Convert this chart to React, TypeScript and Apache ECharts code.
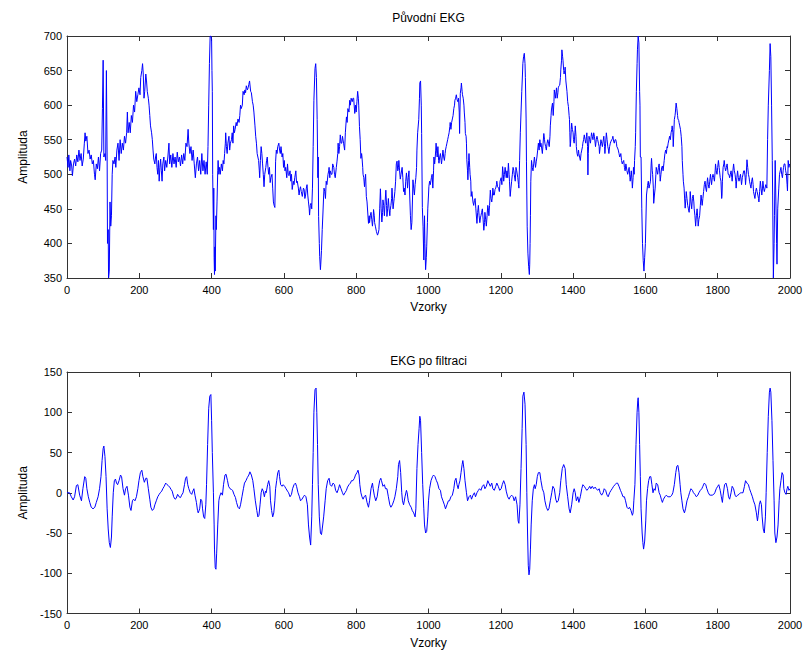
import React, { useEffect, useRef } from "react";
import * as echarts from "echarts";

// Raw ECG samples [sample index, amplitude]
const rawEkg: number[][] = [
[0,525],[3,510],[5,528],[8,505],[10,520],[13,512],[15,498],[18,515],[21,522],[24,512],[27,528],[30,518],[33,535],[36,520],[39,530],[42,512],[45,522],[48,545],[50,560],[52,548],[55,555],[58,530],[61,535],[64,522],[67,528],[70,515],[73,520],[76,500],[78,492],[81,515],[84,508],[87,525],[90,505],[93,530],[96,535],[98,595],[100,665],[102,525],[105,530],[107,520],[109,650],[111,525],[112,400],[114,420],[115,350],[117,360],[119,460],[121,425],[123,440],[125,500],[127,520],[130,515],[133,525],[135,510],[138,535],[141,545],[144,520],[147,550],[150,530],[153,545],[156,535],[159,555],[162,545],[165,560],[167,590],[169,560],[172,575],[175,560],[178,585],[181,575],[184,600],[187,590],[190,620],[193,605],[196,615],[199,625],[202,615],[204,640],[207,650],[209,660],[211,645],[213,610],[215,620],[218,645],[220,635],[222,620],[225,610],[227,600],[229,585],[231,570],[234,560],[236,550],[238,535],[240,522],[243,515],[245,525],[247,530],[249,510],[251,500],[253,520],[255,490],[257,510],[259,522],[261,505],[263,490],[265,515],[268,525],[270,505],[273,520],[276,510],[279,525],[282,545],[284,515],[287,528],[290,510],[293,530],[296,515],[299,525],[302,510],[305,532],[308,518],[311,525],[314,512],[317,528],[320,515],[323,530],[326,520],[329,545],[332,540],[335,565],[337,545],[340,530],[343,540],[346,520],[349,535],[352,515],[355,495],[358,515],[361,525],[364,505],[367,520],[370,500],[373,530],[376,505],[379,520],[382,500],[385,518],[388,500],[390,540],[392,600],[394,660],[396,700],[398,700],[400,695],
[401,650],[402,620],[403,500],[405,420],[406,480],[407,380],[408,355],[409,395],[410,360],[412,440],[413,420],[415,460],[417,505],[418,520],[420,500],[422,510],[424,500],[427,515],[430,505],[432,520],[434,515],[436,530],[438,545],[439,560],[441,540],[443,530],[445,545],[448,555],[450,535],[452,545],[455,550],[457,560],[459,545],[461,570],[463,560],[465,565],[468,575],[470,570],[473,580],[476,575],[478,585],[480,600],[482,595],[485,600],[487,620],[490,615],[492,622],[494,618],[496,628],[499,622],[501,625],[503,630],[505,635],[508,620],[510,618],[513,605],[515,600],[517,590],[520,570],[522,555],[524,545],[526,530],[528,525],[530,520],[532,505],[533,495],[535,520],[537,540],[539,530],[541,515],[543,500],[545,482],[547,500],[550,510],[552,520],[554,525],[556,510],[558,500],[560,510],[562,488],[564,495],[567,500],[569,480],[571,460],[573,455],[575,452],[577,518],[579,535],[581,530],[583,540],[586,545],[588,535],[590,530],[592,540],[595,525],[597,530],[599,510],[601,520],[603,505],[605,510],[608,495],[610,515],[612,500],[614,498],[617,505],[619,490],[621,500],[623,478],[626,490],[628,485],[630,495],[633,505],[635,488],[637,490],[640,480],[642,470],[644,478],[646,482],[648,475],[651,468],[654,480],[656,478],[658,465],[660,470],[662,480],[664,485],[666,470],[668,460],[670,450],[671,441],[673,455],[675,458],[677,450],[679,480],[681,540],[683,607],[686,653],[688,660],[690,640],[692,579],[694,495],[695,525],[696,439],[698,400],[699,381],[701,362],[702,370],[704,390],[706,420],[708,444],[710,470],[711,480],[713,475],[715,465],[717,490],[719,485],[722,500],[724,505],[725,510],[727,495],[728,505],[731,500],[733,500],[735,515],[738,510],[740,500],[742,495],[745,510],[747,519],[749,530],[750,545],[752,530],[754,540],[756,557],[758,545],[760,545],[762,555],[765,545],[768,535],[770,560],[773,583],[775,575],[777,595],[780,590],[782,607],[784,600],[786,610],[789,605],[791,610],[793,610],[796,588],[798,600],[800,590],[802,605],[804,620],[806,610],[807,600],[809,569],[811,550],[813,523],[815,530],[816,525],[818,510],[819,500],[821,495],[823,482],[824,490],[826,500],[828,468],[830,460],[832,444],[834,429],[836,440],[837,430],[839,440],[841,445],[843,435],[845,425],[847,438],[848,449],[850,440],[851,430],[853,425],[856,417],[859,412],[861,415],[863,420],[865,450],[867,479],[869,450],[871,431],[873,445],[874,463],[876,455],[878,440],[880,460],[882,477],[884,455],[885,439],[887,450],[889,465],[891,450],[893,440],[894,448],[896,455],[898,465],[899,480],[901,460],[902,450],[904,460],[905,465],[907,475],[909,490],[911,515],[913,519],[915,505],[917,510],[918,520],[920,505],[922,493],[924,500],[927,510],[929,495],[931,475],[933,480],[935,470],[937,490],[939,502],[941,490],[942,480],[944,495],[946,505],[948,470],[950,440],[952,420],[954,430],[956,470],[957,492],[959,480],[961,470],[963,485],[965,495],[967,510],[968,535],[970,560],[973,579],[975,610],[976,632],[978,635],[980,600],[981,559],[983,452],[985,424],[987,376],[989,440],[990,400],[992,362],[994,380],[995,395],[997,430],[998,450],[1000,470],[1001,482],[1003,490],[1005,485],[1008,495],[1010,500],[1012,480],[1014,505],[1015,525],[1017,515],[1018,520],[1020,535],[1021,545],[1023,530],[1024,525],[1026,540],[1028,520],[1029,516],[1031,525],[1033,530],[1035,520],[1036,515],[1038,525],[1040,535],[1042,525],[1044,520],[1046,530],[1047,535],[1049,540],[1051,545],[1053,550],[1055,555],[1057,560],[1059,569],[1060,575],[1062,565],[1064,575],[1066,580],[1068,585],[1070,595],[1072,600],[1073,607],[1075,610],[1077,615],[1079,608],[1081,605],[1083,610],[1085,590],[1086,559],[1087,590],[1088,617],[1090,625],[1091,632],[1093,620],[1094,615],[1096,610],[1098,600],[1099,590],[1101,575],[1102,559],[1104,555],[1105,545],[1106,521],[1108,505],[1109,492],[1111,520],[1112,530],[1114,510],[1115,500],[1117,490],[1118,468],[1120,475],[1121,470],[1123,460],[1125,455],[1127,462],[1129,465],[1131,450],[1134,429],[1136,445],[1138,455],[1140,440],[1142,430],[1144,438],[1145,440],[1147,445],[1149,450],[1151,435],[1153,419],[1155,430],[1156,445],[1158,435],[1160,425],[1162,440],[1164,455],[1166,448],[1167,440],[1169,455],[1171,477],[1173,465],[1175,460],[1177,470],[1178,480],[1180,470],[1182,470],[1184,478],[1186,480],[1188,485],[1189,490],[1191,482],[1194,480],[1196,475],[1198,490],[1201,495],[1203,485],[1205,511],[1207,500],[1208,490],[1210,500],[1212,510],[1215,495],[1217,505],[1219,495],[1221,516],[1223,500],[1224,490],[1226,468],[1228,480],[1230,490],[1232,500],[1234,510],[1236,505],[1237,500],[1240,490],[1242,510],[1244,505],[1247,495],[1249,485],[1250,480],[1252,520],[1254,560],[1256,590],[1258,620],[1260,645],[1261,660],[1263,670],[1265,675],[1267,660],[1268,640],[1270,580],[1271,519],[1272,470],[1273,424],[1275,386],[1277,367],[1279,355],[1280,370],[1281,400],[1282,440],[1283,490],[1285,520],[1287,510],[1289,505],[1291,515],[1293,525],[1295,515],[1296,510],[1298,518],[1300,525],[1302,535],[1304,545],[1306,535],[1308,550],[1310,540],[1311,545],[1313,538],[1315,530],[1317,545],[1319,559],[1321,550],[1322,545],[1324,540],[1326,535],[1328,545],[1330,550],[1332,545],[1334,540],[1336,555],[1337,570],[1339,585],[1340,593],[1342,600],[1343,603],[1345,585],[1347,605],[1348,622],[1350,615],[1351,610],[1353,620],[1354,625],[1356,610],[1358,618],[1359,625],[1361,628],[1363,629],[1365,640],[1366,651],[1368,665],[1369,680],[1371,670],[1372,665],[1374,650],[1375,645],[1377,650],[1378,655],[1380,635],[1383,620],[1385,605],[1387,598],[1389,585],[1390,579],[1391,560],[1392,540],[1393,545],[1395,565],[1396,574],[1398,565],[1400,560],[1401,550],[1403,545],[1405,560],[1406,570],[1408,555],[1409,540],[1411,530],[1413,526],[1415,535],[1416,530],[1418,525],[1420,520],[1422,530],[1424,535],[1426,540],[1427,545],[1429,550],[1431,557],[1433,550],[1435,545],[1437,555],[1438,560],[1440,540],[1441,499],[1442,530],[1444,555],[1446,550],[1448,545],[1450,555],[1451,560],[1453,555],[1455,550],[1457,560],[1459,555],[1461,545],[1462,540],[1464,550],[1466,555],[1468,550],[1470,545],[1472,540],[1473,530],[1475,540],[1477,550],[1479,545],[1481,540],[1483,548],[1485,555],[1487,540],[1488,530],[1490,545],[1492,560],[1494,550],[1496,540],[1498,535],[1499,530],[1501,540],[1503,545],[1505,548],[1507,550],[1509,552],[1510,555],[1512,548],[1514,545],[1516,550],[1518,550],[1520,545],[1521,540],[1523,538],[1525,535],[1527,530],[1529,525],[1531,528],[1532,530],[1534,520],[1536,515],[1538,518],[1540,520],[1542,510],[1544,505],[1546,515],[1547,515],[1549,505],[1551,500],[1553,505],[1555,510],[1557,495],[1558,490],[1560,500],[1561,505],[1563,490],[1564,480],[1566,495],[1567,510],[1569,500],[1570,520],[1572,540],[1573,560],[1575,620],[1577,660],[1578,680],[1580,700],[1582,690],[1584,620],[1585,600],[1586,525],[1588,525],[1590,450],[1592,400],[1594,375],[1596,360],[1598,380],[1600,400],[1601,400],[1603,470],[1606,484],[1608,490],[1610,480],[1612,485],[1614,490],[1616,515],[1617,523],[1619,505],[1620,500],[1622,480],[1623,458],[1625,470],[1627,480],[1629,500],[1630,510],[1632,505],[1634,500],[1636,510],[1638,515],[1640,500],[1641,490],[1643,500],[1645,510],[1647,512],[1649,505],[1651,515],[1652,520],[1654,530],[1656,535],[1658,530],[1660,540],[1661,538],[1663,545],[1665,550],[1667,555],[1669,550],[1671,560],[1673,565],[1674,570],[1676,560],[1677,540],[1679,565],[1680,579],[1682,585],[1683,590],[1685,603],[1687,595],[1689,585],[1690,580],[1692,578],[1693,575],[1695,570],[1697,565],[1699,555],[1701,540],[1702,520],[1704,500],[1705,490],[1707,480],[1708,470],[1710,451],[1712,465],[1713,475],[1715,465],[1717,455],[1719,450],[1721,445],[1723,460],[1724,475],[1726,460],[1728,450],[1730,465],[1732,470],[1734,460],[1735,450],[1737,440],[1739,425],[1741,440],[1743,450],[1745,435],[1746,425],[1748,435],[1750,440],[1752,455],[1754,470],[1756,460],[1757,455],[1759,465],[1761,475],[1763,485],[1765,490],[1767,480],[1769,475],[1771,490],[1772,495],[1774,485],[1776,480],[1778,490],[1780,500],[1781,495],[1783,485],[1785,495],[1787,500],[1789,495],[1791,490],[1793,505],[1794,515],[1796,505],[1798,500],[1800,510],[1802,520],[1804,510],[1805,505],[1807,495],[1809,490],[1811,465],[1812,470],[1813,490],[1815,510],[1817,515],[1818,520],[1820,510],[1822,505],[1824,510],[1826,515],[1828,505],[1829,500],[1831,500],[1833,495],[1835,500],[1837,505],[1839,495],[1840,490],[1842,505],[1844,515],[1846,505],[1848,500],[1850,490],[1851,480],[1853,495],[1855,505],[1857,495],[1859,490],[1861,495],[1863,500],[1865,490],[1866,485],[1868,495],[1870,500],[1872,505],[1874,505],[1876,495],[1877,485],[1879,500],[1881,521],[1883,510],[1885,500],[1887,495],[1888,490],[1890,485],[1892,480],[1894,490],[1896,495],[1898,485],[1899,475],[1901,470],[1903,465],[1905,475],[1907,480],[1909,475],[1911,470],[1913,465],[1914,460],[1916,475],[1918,490],[1920,480],[1922,470],[1924,480],[1925,490],[1927,480],[1929,475],[1931,480],[1933,485],[1935,482],[1936,480],[1938,550],[1940,600],[1943,650],[1945,689],[1947,670],[1949,600],[1951,520],[1952,470],[1954,350],[1956,400],[1957,440],[1959,520],[1961,460],[1963,400],[1964,370],[1966,450],[1969,480],[1971,500],[1973,505],[1975,510],[1977,500],[1979,495],[1981,505],[1982,510],[1984,515],[1986,515],[1988,505],[1990,500],[1992,485],[1993,476],[1995,520],[1997,510],[1999,515]
];

// Filtered ECG samples [sample index, amplitude]
const filteredEkg: number[][] = [
[0,0],[7,0],[12,-5],[17,-9],[21,-5],[26,9],[30,10],[35,-3],[40,-10],[44,5],[49,20],[52,18],[55,5],[59,-5],[63,-12],[67,-18],[72,-20],[77,-18],[81,-12],[86,-5],[90,5],[94,20],[97,40],[100,55],[102,58],[105,45],[108,20],[111,-20],[114,-45],[117,-62],[120,-68],[123,-55],[125,-30],[128,0],[131,15],[134,17],[137,12],[140,10],[144,15],[148,22],[151,20],[155,5],[159,-3],[162,5],[166,8],[170,-3],[174,-18],[177,-22],[181,-10],[184,-8],[188,-10],[192,-5],[196,5],[199,15],[203,25],[207,28],[210,20],[214,13],[218,18],[221,18],[225,5],[229,-8],[232,-18],[236,-22],[240,-20],[243,-15],[247,-10],[251,-5],[255,-2],[258,0],[262,2],[265,5],[269,8],[273,12],[277,10],[280,9],[284,7],[288,4],[291,2],[295,-5],[299,-8],[302,-7],[306,-2],[310,-5],[314,-6],[317,-3],[321,0],[325,10],[328,18],[331,20],[334,10],[337,5],[341,0],[345,-2],[348,2],[351,5],[354,-3],[358,-12],[361,-22],[363,-25],[367,-20],[370,-8],[373,-10],[375,-20],[378,-30],[381,-32],[384,-15],[386,10],[389,60],[392,105],[395,120],[398,122],[400,90],[402,50],[405,0],[407,-40],[408,-70],[410,-93],[412,-95],[414,-75],[417,-40],[420,-10],[422,-5],[426,0],[430,-3],[433,10],[437,22],[440,23],[444,15],[447,8],[451,5],[455,4],[458,3],[462,-2],[466,-6],[469,-12],[473,-18],[477,-20],[480,-15],[484,-5],[488,5],[491,12],[495,15],[499,19],[503,22],[506,26],[510,22],[514,15],[517,5],[521,-10],[525,-22],[528,-30],[531,-28],[534,-15],[537,0],[540,5],[543,2],[546,-5],[549,2],[551,0],[555,10],[558,15],[561,8],[563,-10],[566,-22],[569,-30],[572,-25],[575,-10],[577,5],[580,15],[583,25],[586,28],[588,20],[591,10],[595,8],[598,10],[602,8],[606,5],[610,2],[613,0],[617,-5],[621,-2],[624,5],[628,10],[632,12],[635,8],[639,0],[643,-5],[646,-10],[650,-8],[654,-5],[657,-3],[661,-5],[665,-15],[668,-40],[671,-55],[674,-65],[677,-30],[679,10],[681,50],[683,100],[686,128],[689,130],[691,100],[693,60],[695,10],[698,-30],[701,-50],[704,-52],[706,-45],[710,-30],[714,-10],[717,5],[721,15],[725,18],[728,10],[732,8],[736,12],[740,10],[743,3],[747,0],[751,5],[754,10],[758,5],[762,0],[765,-3],[769,0],[773,3],[776,7],[780,10],[784,12],[787,15],[791,15],[795,18],[798,22],[802,25],[805,28],[808,22],[810,10],[813,0],[816,-5],[819,-8],[822,-5],[826,-3],[830,-12],[834,-18],[837,-10],[841,5],[845,12],[847,5],[850,-3],[854,-10],[858,-5],[861,5],[865,15],[868,18],[870,15],[874,8],[878,10],[881,5],[885,5],[889,-5],[893,-15],[896,-18],[900,-15],[904,-10],[907,-5],[911,5],[915,20],[917,35],[920,40],[923,25],[926,0],[928,-10],[931,-15],[935,-5],[939,3],[941,0],[944,-10],[948,-15],[952,-18],[955,-22],[959,-25],[963,-30],[965,-20],[968,30],[971,60],[974,80],[976,95],[978,90],[981,50],[984,10],[987,-20],[989,-40],[992,-50],[995,-48],[998,-30],[1000,-10],[1003,5],[1007,15],[1011,20],[1014,22],[1018,20],[1022,15],[1025,12],[1029,5],[1033,3],[1036,-5],[1040,-10],[1044,-15],[1047,-20],[1051,-15],[1055,-10],[1058,-10],[1062,-5],[1066,-3],[1070,5],[1073,15],[1076,18],[1079,10],[1082,5],[1084,10],[1087,15],[1090,25],[1093,35],[1095,40],[1098,30],[1101,15],[1105,0],[1108,-10],[1112,-5],[1116,-3],[1119,-8],[1123,-3],[1127,0],[1130,-5],[1134,0],[1138,3],[1141,5],[1145,3],[1149,8],[1153,10],[1156,5],[1160,8],[1164,15],[1167,12],[1171,8],[1175,12],[1178,5],[1182,3],[1186,8],[1189,12],[1193,8],[1197,3],[1201,5],[1204,10],[1208,15],[1212,10],[1215,2],[1219,-5],[1223,-8],[1226,-5],[1230,-3],[1234,-5],[1237,-10],[1241,-5],[1245,-15],[1248,-35],[1250,-38],[1253,-15],[1256,30],[1259,80],[1261,120],[1264,125],[1267,110],[1270,60],[1272,0],[1274,-50],[1276,-90],[1278,-102],[1280,-95],[1282,-70],[1284,-40],[1287,-10],[1290,5],[1293,10],[1295,5],[1298,10],[1301,20],[1304,25],[1308,25],[1311,15],[1315,5],[1319,0],[1322,-10],[1326,-18],[1330,-22],[1333,-20],[1337,-10],[1341,0],[1344,8],[1348,5],[1352,-8],[1355,-12],[1359,-10],[1363,0],[1366,15],[1370,30],[1374,35],[1378,30],[1381,10],[1385,-5],[1389,-20],[1392,-25],[1396,-15],[1400,0],[1403,5],[1406,0],[1409,-10],[1413,-5],[1416,-12],[1420,-5],[1424,5],[1427,10],[1431,8],[1435,5],[1438,3],[1442,5],[1446,8],[1449,5],[1453,8],[1457,5],[1461,7],[1464,5],[1468,3],[1472,5],[1475,0],[1479,-3],[1483,0],[1486,5],[1490,3],[1494,-3],[1497,-5],[1501,0],[1505,3],[1508,5],[1512,8],[1516,10],[1520,12],[1523,12],[1527,8],[1531,3],[1534,0],[1538,-5],[1542,-5],[1545,-10],[1549,-18],[1553,-20],[1556,-18],[1560,-22],[1564,-28],[1566,-25],[1568,-10],[1571,10],[1574,60],[1577,100],[1579,115],[1580,118],[1582,100],[1584,60],[1586,20],[1588,-20],[1591,-50],[1593,-62],[1595,-70],[1598,-60],[1601,-35],[1603,-10],[1606,5],[1609,15],[1612,20],[1615,20],[1618,10],[1621,0],[1624,5],[1627,3],[1630,12],[1634,10],[1638,0],[1641,-3],[1644,-8],[1647,-12],[1650,-8],[1654,-5],[1658,-3],[1662,-5],[1665,-5],[1669,-5],[1673,-3],[1676,0],[1680,10],[1684,25],[1687,33],[1690,34],[1693,25],[1696,10],[1698,0],[1701,-10],[1704,-20],[1708,-25],[1711,-20],[1715,-10],[1719,-5],[1722,0],[1726,5],[1730,3],[1733,0],[1737,-2],[1741,-5],[1745,-3],[1748,0],[1752,3],[1756,5],[1759,8],[1763,12],[1767,10],[1770,5],[1774,0],[1778,-3],[1781,-3],[1785,-3],[1789,-2],[1792,0],[1796,5],[1800,8],[1803,10],[1807,3],[1810,-5],[1813,-12],[1815,-3],[1819,10],[1823,12],[1827,5],[1830,-5],[1833,-8],[1837,0],[1840,8],[1844,5],[1848,-3],[1851,-5],[1855,-3],[1859,-2],[1863,0],[1866,0],[1870,0],[1874,8],[1877,15],[1881,12],[1885,10],[1888,5],[1892,0],[1896,-5],[1899,-10],[1903,-15],[1907,-25],[1910,-35],[1912,-28],[1915,-15],[1918,-10],[1921,-15],[1923,-30],[1926,-45],[1929,-50],[1932,-30],[1934,0],[1937,50],[1940,95],[1943,125],[1945,130],[1947,125],[1950,90],[1953,40],[1956,-10],[1958,-50],[1961,-62],[1964,-55],[1967,-40],[1970,-10],[1972,5],[1975,15],[1978,25],[1981,22],[1983,5],[1986,0],[1989,-2],[1992,5],[1994,8],[1997,3],[2000,5]
];

const sampleRange = [0, 2000];
const sampleStep = 200;
const rawRange = [350, 700];
const filteredRange = [-150, 150];
const amplitudeStep = 50;

const titles = ["Původní EKG", "EKG po filtraci"];
const xName = "Vzorky";
const yName = "Amplituda";

const FONT = "'Liberation Sans', Arial, sans-serif";
const AXIS_COLOR = "#333333";
const TEXT_COLOR = "#000000";

const grids = [
  { left: 67, right: 16, top: 36, height: 242 },
  { left: 67, right: 16, top: 372, height: 241.5 },
];

function boxAxes(gridIndex: number, yRange: number[]) {
  const tick = { show: true, inside: true, length: 5, lineStyle: { color: AXIS_COLOR } };
  const line = { show: true, onZero: false, lineStyle: { color: AXIS_COLOR, width: 1 } };
  const label = {
    color: TEXT_COLOR, fontFamily: FONT, fontSize: 11, margin: 6,
    formatter: (v: number) => String(v),
  };
  const x = [
    {
      type: "value", gridIndex, min: sampleRange[0], max: sampleRange[1], interval: sampleStep,
      position: "bottom", axisLine: line, axisTick: tick, axisLabel: label, splitLine: { show: false },
      name: xName, nameLocation: "middle", nameGap: 23,
      nameTextStyle: { color: TEXT_COLOR, fontFamily: FONT, fontSize: 12 },
    },
    {
      type: "value", gridIndex, min: sampleRange[0], max: sampleRange[1], interval: sampleStep,
      position: "top", axisLine: line, axisTick: tick, axisLabel: { show: false }, splitLine: { show: false },
    },
  ];
  const y = [
    {
      type: "value", gridIndex, min: yRange[0], max: yRange[1], interval: amplitudeStep,
      position: "left", axisLine: line, axisTick: tick, axisLabel: { ...label, margin: 5 }, splitLine: { show: false },
      name: yName, nameLocation: "middle", nameGap: 38,
      nameTextStyle: { color: TEXT_COLOR, fontFamily: FONT, fontSize: 12 },
    },
    {
      type: "value", gridIndex, min: yRange[0], max: yRange[1], interval: amplitudeStep,
      position: "right", axisLine: line, axisTick: tick, axisLabel: { show: false }, splitLine: { show: false },
    },
  ];
  return { x, y };
}

export default function App() {
  const ref = useRef<HTMLDivElement>(null);

  useEffect(() => {
    if (!ref.current) return;
    const chart = echarts.init(ref.current, null, { renderer: "svg" });
    const a = boxAxes(0, rawRange);
    const b = boxAxes(1, filteredRange);
    const plotCenter = 67 + (806 - 67 - 16) / 2;
    chart.setOption({
      animation: false,
      backgroundColor: "#ffffff",
      grid: grids,
      xAxis: [...a.x, ...b.x],
      yAxis: [...a.y, ...b.y],
      graphic: [
        {
          type: "text", x: plotCenter, y: 12,
          style: { text: titles[0], fill: TEXT_COLOR, font: `12px ${FONT}`, textAlign: "center" },
        },
        {
          type: "text", x: plotCenter, y: 355,
          style: { text: titles[1], fill: TEXT_COLOR, font: `12px ${FONT}`, textAlign: "center" },
        },
      ],
      series: [
        {
          type: "line", xAxisIndex: 0, yAxisIndex: 0, data: rawEkg, showSymbol: false,
          lineStyle: { color: "#0000ff", width: 1 }, itemStyle: { color: "#0000ff" }, clip: true,
        },
        {
          type: "line", xAxisIndex: 2, yAxisIndex: 2, data: filteredEkg, showSymbol: false,
          lineStyle: { color: "#0000ff", width: 1 }, itemStyle: { color: "#0000ff" }, clip: true,
        },
      ],
    });
    return () => chart.dispose();
  }, []);

  return (
    <div
      ref={ref}
      style={{ position: "fixed", left: 0, top: 0, width: 806, height: 653, background: "#fff" }}
    />
  );
}
